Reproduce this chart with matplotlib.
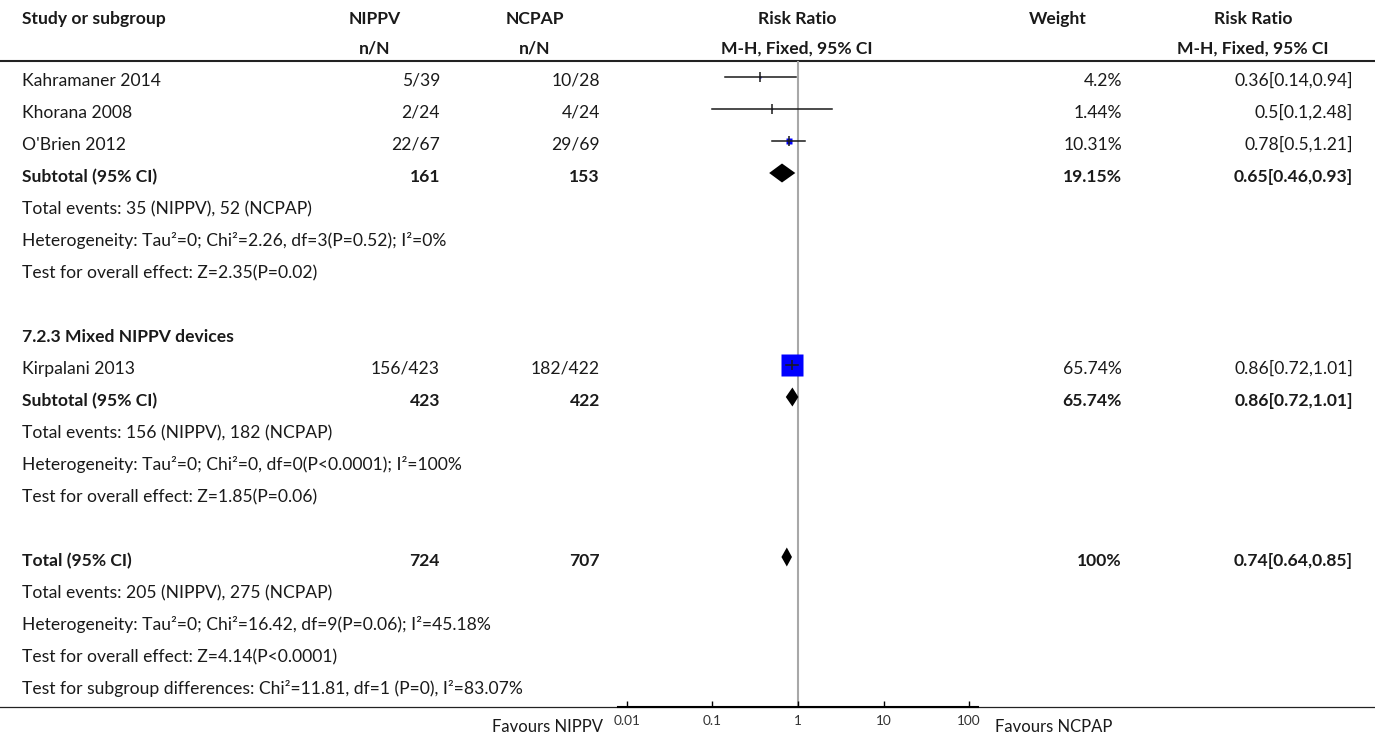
import matplotlib.pyplot as plt

plt.rcParams['font.family'] = ['Lato', 'DejaVu Sans']

# studies (subgroup 1 and 2)
studies = ["Kahramaner 2014", "Khorana 2008", "O'Brien 2012", "Kirpalani 2013"]
nippv = ["5/39", "2/24", "22/67", "156/423"]
ncpap = ["10/28", "4/24", "29/69", "182/422"]
weight = [4.2, 1.44, 10.31, 65.74]
rr = [0.36, 0.5, 0.78, 0.86]
rr_lo = [0.14, 0.1, 0.5, 0.72]
rr_hi = [0.94, 2.48, 1.21, 1.01]
study_rows = [0, 1, 2, 9]

# pooled estimates
pool_labels = ["Subtotal (95% CI)", "Subtotal (95% CI)", "Total (95% CI)"]
pool_nippv = ["161", "423", "724"]
pool_ncpap = ["153", "422", "707"]
pool_weight = [19.15, 65.74, 100]
pool_rr = [0.65, 0.86, 0.74]
pool_lo = [0.46, 0.72, 0.64]
pool_hi = [0.93, 1.01, 0.85]
pool_rows = [3, 10, 15]

# free text lines
notes = [
    (4, "Total events: 35 (NIPPV), 52 (NCPAP)", False),
    (5, "Heterogeneity: Tau\u00b2=0; Chi\u00b2=2.26, df=3(P=0.52); I\u00b2=0%", False),
    (6, "Test for overall effect: Z=2.35(P=0.02)", False),
    (8, "7.2.3 Mixed NIPPV devices", True),
    (11, "Total events: 156 (NIPPV), 182 (NCPAP)", False),
    (12, "Heterogeneity: Tau\u00b2=0; Chi\u00b2=0, df=0(P<0.0001); I\u00b2=100%", False),
    (13, "Test for overall effect: Z=1.85(P=0.06)", False),
    (16, "Total events: 205 (NIPPV), 275 (NCPAP)", False),
    (17, "Heterogeneity: Tau\u00b2=0; Chi\u00b2=16.42, df=9(P=0.06); I\u00b2=45.18%", False),
    (18, "Test for overall effect: Z=4.14(P<0.0001)", False),
    (19, "Test for subgroup differences: Chi\u00b2=11.81, df=1 (P=0), I\u00b2=83.07%", False),
]

ticks = [0.01, 0.1, 1, 10, 100]
tick_labels = ["0.01", "0.1", "1", "10", "100"]

W, H = 1375, 736
fs = 12.6
tc = '#1a1a1a'

def text_y(r):
    return 86 + 32 * r

def mark_y(r):
    return 77 + 32 * r

fig = plt.figure(figsize=(W / 100, H / 100), dpi=100)
ax = fig.add_axes([0, 0, 1, 1])
ax.set_xlim(0, W)
ax.set_ylim(H, 0)
ax.axis('off')

# forest axes, log scale
fax = fig.add_axes([618 / W, 0, 360 / W, 1])
fax.set_xscale('log')
fax.set_xlim(10 ** -2.105, 10 ** 2.105)
fax.set_ylim(H, 0)
fax.patch.set_visible(False)
for s in ['left', 'right', 'top']:
    fax.spines[s].set_visible(False)
fax.spines['bottom'].set_position(('data', 707))
fax.spines['bottom'].set_linewidth(1.5)
fax.set_yticks([])
fax.set_xticks(ticks)
fax.set_xticklabels(tick_labels)
fax.minorticks_off()
fax.tick_params(axis='x', direction='in', length=4, width=1, labelsize=9.8,
                pad=6, labelcolor='#333333')

# header
ax.text(22, 24, "Study or subgroup", fontsize=fs, fontweight='bold', color=tc)
for x, t1, t2 in [(375, "NIPPV", "n/N"), (535, "NCPAP", "n/N"),
                  (797, "Risk Ratio", "M-H, Fixed, 95% CI"),
                  (1058, "Weight", ""),
                  (1253, "Risk Ratio", "M-H, Fixed, 95% CI")]:
    ax.text(x, 24, t1, fontsize=fs, fontweight='bold', ha='center', color=tc)
    ax.text(x, 54, t2, fontsize=fs, fontweight='bold', ha='center', color=tc)
ax.axhline(61, color='#222222', lw=1.5)
ax.axhline(707, color='#222222', lw=0.9)

def row_text(r, label, a, b, w, est, lo, hi, bold):
    fw = 'bold' if bold else 'normal'
    y = text_y(r)
    ax.text(22, y, label, fontsize=fs, fontweight=fw, color=tc)
    ax.text(440, y, a, fontsize=fs, fontweight=fw, ha='right', color=tc)
    ax.text(600, y, b, fontsize=fs, fontweight=fw, ha='right', color=tc)
    ax.text(1122, y, f"{w:g}%", fontsize=fs, fontweight=fw, ha='right', color=tc)
    ax.text(1353, y, f"{est:g}[{lo:g},{hi:g}]", fontsize=fs, fontweight=fw,
            ha='right', color=tc)

for i in range(len(studies)):
    row_text(study_rows[i], studies[i], nippv[i], ncpap[i], weight[i],
             rr[i], rr_lo[i], rr_hi[i], False)
for i in range(len(pool_labels)):
    row_text(pool_rows[i], pool_labels[i], pool_nippv[i], pool_ncpap[i],
             pool_weight[i], pool_rr[i], pool_lo[i], pool_hi[i], True)
for r, t, b in notes:
    ax.text(22, text_y(r), t, fontsize=fs, fontweight='bold' if b else 'normal',
            color=tc)

# line of no effect
fax.vlines(1, 61, 707, color='#a8a8a8', lw=1.5, zorder=1)

# study markers
for i in range(len(studies)):
    y = mark_y(study_rows[i])
    side_px = 22 * (weight[i] / max(weight)) ** 0.75
    fax.plot([rr[i]], [y], marker='s', ms=side_px * 0.72, color='#0000ff',
             mec='none', zorder=3)
    fax.plot([rr_lo[i], rr_hi[i]], [y, y], color='#1a1a1a', lw=1.1, zorder=4)
    fax.plot([rr[i]], [y], marker='|', ms=7, mew=1.1, color='#1a1a1a', zorder=4)

# pooled diamonds
for i in range(len(pool_labels)):
    y = mark_y(pool_rows[i])
    h = 9.5
    fax.fill([pool_lo[i], pool_rr[i], pool_hi[i], pool_rr[i]],
             [y, y - h, y, y + h], color='black', lw=0, zorder=3)

ax.text(603, 732, "Favours NIPPV", fontsize=12, ha='right', color=tc)
ax.text(995, 732, "Favours NCPAP", fontsize=12, ha='left', color=tc)

fig.savefig('out.png', dpi=100)
